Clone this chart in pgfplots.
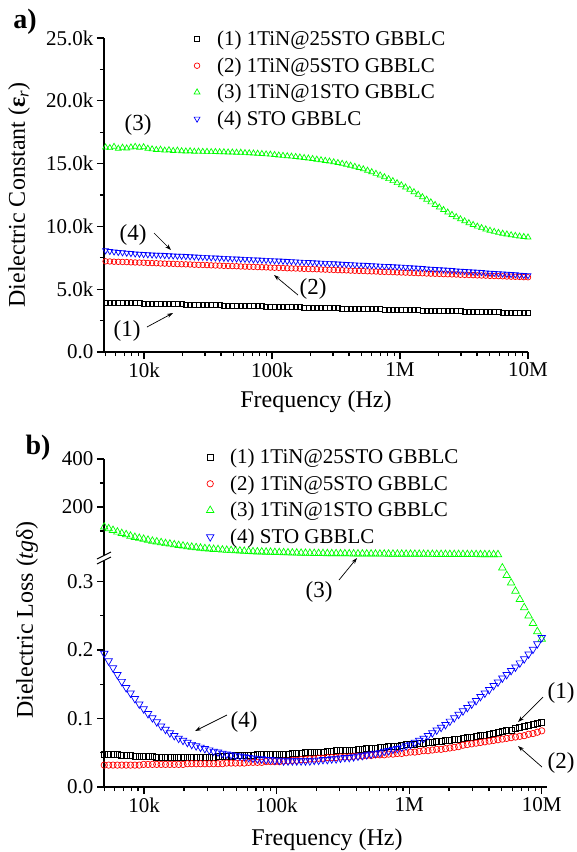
\documentclass[border=0pt]{standalone}
\usepackage{pgfplots}
\pgfplotsset{compat=1.18}
\usepackage{pgfplotstable}
\usepackage{fontspec}
\setmainfont{Liberation Serif}
\usetikzlibrary{arrows.meta}

\definecolor{cgreen}{RGB}{0,255,0}
\definecolor{cred}{RGB}{255,0,0}
\definecolor{cblue}{RGB}{0,0,255}

\pgfplotstableread{
L a1 a2 a3 a4 b1 b2 b3 b4
3.700 3.95 7.22 16.30 8.08 0.048 0.032 117 0.195
3.733 3.94 7.21 16.25 8.03 0.048 0.032 110 0.184
3.766 3.93 7.19 16.35 7.99 0.047 0.032 103 0.174
3.799 3.92 7.18 16.20 7.95 0.047 0.032 96 0.164
3.832 3.92 7.17 16.28 7.92 0.046 0.032 90 0.154
3.865 3.91 7.16 16.22 7.89 0.046 0.032 85 0.145
3.898 3.90 7.14 16.30 7.86 0.046 0.032 79 0.137
3.931 3.89 7.13 16.35 7.83 0.045 0.032 74 0.129
3.964 3.88 7.12 16.28 7.81 0.045 0.032 70 0.121
3.997 3.87 7.11 16.32 7.78 0.045 0.033 66 0.114
4.030 3.87 7.09 16.20 7.76 0.045 0.033 62 0.107
4.063 3.86 7.08 16.15 7.75 0.045 0.033 58 0.101
4.096 3.85 7.07 16.10 7.73 0.044 0.033 55 0.095
4.129 3.84 7.05 16.12 7.72 0.044 0.033 52 0.089
4.162 3.83 7.04 16.05 7.70 0.044 0.033 48 0.084
4.195 3.82 7.03 16.08 7.68 0.044 0.033 46 0.079
4.228 3.81 7.02 16.02 7.67 0.044 0.033 43 0.075
4.261 3.81 7.00 16.05 7.65 0.044 0.033 40 0.071
4.294 3.80 6.99 16.00 7.64 0.044 0.033 38 0.068
4.327 3.79 6.98 15.98 7.62 0.044 0.034 35 0.065
4.360 3.78 6.97 16.00 7.60 0.044 0.034 33 0.062
4.393 3.77 6.95 15.96 7.59 0.044 0.034 31 0.060
4.426 3.76 6.94 15.97 7.57 0.044 0.034 29 0.058
4.459 3.75 6.93 15.95 7.56 0.044 0.034 27 0.056
4.492 3.75 6.92 15.95 7.54 0.044 0.034 26 0.054
4.525 3.74 6.90 15.93 7.52 0.044 0.034 24 0.052
4.558 3.73 6.89 15.94 7.51 0.045 0.034 23 0.051
4.591 3.72 6.88 15.92 7.49 0.045 0.034 21 0.049
4.624 3.71 6.86 15.92 7.48 0.045 0.035 20 0.048
4.657 3.70 6.85 15.90 7.46 0.045 0.035 19 0.047
4.690 3.70 6.84 15.90 7.44 0.046 0.035 18 0.046
4.723 3.69 6.83 15.88 7.43 0.046 0.035 17 0.045
4.756 3.68 6.81 15.88 7.41 0.046 0.035 16 0.044
4.789 3.67 6.80 15.85 7.40 0.046 0.036 15 0.043
4.822 3.66 6.79 15.84 7.38 0.046 0.036 14 0.042
4.855 3.65 6.78 15.82 7.36 0.047 0.036 13.5 0.041
4.888 3.64 6.76 15.80 7.35 0.047 0.036 13 0.041
4.921 3.64 6.75 15.78 7.33 0.047 0.037 12.5 0.040
4.954 3.63 6.74 15.75 7.32 0.047 0.037 12 0.040
4.987 3.62 6.72 15.73 7.30 0.047 0.037 11 0.039
5.020 3.61 6.71 15.70 7.28 0.048 0.037 10.5 0.039
5.053 3.60 6.70 15.66 7.27 0.048 0.038 10 0.038
5.086 3.59 6.69 15.63 7.25 0.048 0.038 9.5 0.038
5.119 3.58 6.67 15.60 7.23 0.049 0.039 9 0.038
5.152 3.58 6.66 15.57 7.22 0.049 0.039 8.5 0.038
5.185 3.57 6.65 15.54 7.20 0.049 0.040 8 0.038
5.218 3.56 6.64 15.50 7.18 0.050 0.040 7.7 0.038
5.251 3.55 6.62 15.46 7.16 0.050 0.041 7.4 0.038
5.284 3.54 6.61 15.42 7.15 0.051 0.041 7.1 0.039
5.317 3.53 6.60 15.38 7.13 0.051 0.042 6.8 0.039
5.350 3.53 6.59 15.33 7.11 0.051 0.042 6.5 0.040
5.383 3.52 6.57 15.28 7.10 0.052 0.043 6.3 0.040
5.416 3.51 6.56 15.23 7.08 0.052 0.043 6.1 0.041
5.449 3.50 6.55 15.18 7.06 0.053 0.043 5.9 0.041
5.482 3.49 6.53 15.12 7.05 0.053 0.044 5.7 0.042
5.515 3.48 6.52 15.06 7.03 0.053 0.044 5.5 0.043
5.548 3.47 6.51 15.00 7.01 0.054 0.044 5.3 0.043
5.581 3.47 6.50 14.93 6.99 0.054 0.045 5.1 0.044
5.614 3.46 6.48 14.85 6.98 0.055 0.045 5.0 0.045
5.647 3.45 6.47 14.76 6.96 0.055 0.045 4.8 0.046
5.680 3.44 6.46 14.66 6.94 0.056 0.046 4.7 0.047
5.713 3.43 6.45 14.56 6.93 0.056 0.046 4.6 0.048
5.746 3.42 6.43 14.45 6.91 0.057 0.047 4.5 0.049
5.779 3.41 6.42 14.33 6.89 0.058 0.047 4.4 0.050
5.812 3.41 6.41 14.20 6.88 0.058 0.047 4.3 0.052
5.845 3.40 6.39 14.07 6.86 0.059 0.048 4.2 0.053
5.878 3.39 6.38 13.93 6.84 0.060 0.048 4.1 0.055
5.911 3.38 6.37 13.78 6.83 0.060 0.049 4.0 0.056
5.944 3.37 6.36 13.62 6.81 0.061 0.049 3.9 0.058
5.977 3.36 6.34 13.46 6.79 0.062 0.050 3.8 0.060
6.010 3.36 6.33 13.29 6.78 0.063 0.051 3.7 0.062
6.043 3.35 6.32 13.11 6.76 0.063 0.051 3.6 0.065
6.076 3.34 6.31 12.93 6.73 0.064 0.052 3.5 0.068
6.109 3.33 6.29 12.74 6.71 0.064 0.053 3.4 0.071
6.142 3.32 6.28 12.54 6.69 0.065 0.053 3.3 0.075
6.175 3.31 6.27 12.34 6.67 0.065 0.054 3.2 0.079
6.208 3.30 6.25 12.14 6.64 0.066 0.055 3.1 0.083
6.241 3.30 6.24 11.93 6.62 0.067 0.055 3.0 0.087
6.274 3.29 6.23 11.72 6.60 0.068 0.056 2.9 0.091
6.307 3.28 6.22 11.52 6.57 0.068 0.057 2.8 0.096
6.340 3.27 6.20 11.32 6.55 0.069 0.058 2.7 0.101
6.373 3.26 6.19 11.12 6.53 0.070 0.059 2.6 0.106
6.406 3.25 6.18 10.93 6.51 0.071 0.061 2.5 0.111
6.439 3.24 6.17 10.75 6.48 0.072 0.062 2.4 0.116
6.472 3.24 6.15 10.58 6.46 0.073 0.063 2.3 0.121
6.505 3.23 6.14 10.42 6.44 0.074 0.064 2.2 0.126
6.538 3.22 6.13 10.27 6.42 0.075 0.065 2.1 0.132
6.571 3.21 6.12 10.13 6.39 0.076 0.066 2.0 0.137
6.604 3.20 6.10 10.00 6.37 0.077 0.067 2.0 0.142
6.637 3.19 6.09 9.88 6.35 0.078 0.068 1.9 0.148
6.670 3.19 6.08 9.77 6.32 0.080 0.069 1.9 0.153
6.703 3.18 6.06 9.67 6.30 0.081 0.070 0.320 0.159
6.736 3.17 6.05 9.58 6.28 0.082 0.071 0.309 0.164
6.769 3.16 6.04 9.50 6.26 0.083 0.072 0.298 0.170
6.802 3.15 6.03 9.43 6.23 0.085 0.073 0.286 0.175
6.835 3.14 6.01 9.37 6.21 0.087 0.074 0.274 0.181
6.868 3.13 6.00 9.31 6.19 0.089 0.075 0.262 0.187
6.901 3.13 5.99 9.26 6.17 0.090 0.077 0.250 0.194
6.934 3.12 5.98 9.21 6.14 0.092 0.078 0.239 0.201
6.967 3.11 5.96 9.17 6.12 0.093 0.080 0.227 0.209
7.000 3.10 5.95 9.13 6.10 0.095 0.082 0.216 0.218
}\data

\newcommand{\tkfont}{\rmfamily\fontsize{21}{25}\selectfont}
\newcommand{\lbfont}{\rmfamily\fontsize{24}{28}\selectfont}
\newcommand{\anfont}{\rmfamily\fontsize{23}{27}\selectfont}

\pgfplotsset{
  myleg/.style={legend image code/.code={\path[draw=none,fill=none] (0pt,-4pt) rectangle (32pt,4pt); \draw[##1] plot coordinates {(14pt,0pt)};}},
  common/.style={
    scale only axis,
    axis line style={-, line width=1.2pt},
    every tick/.style={line width=1.2pt, black},
    tick align=outside,
    major tick length=7pt,
    minor tick length=4pt,
    ticklabel style={font=\tkfont},
    legend style={draw=none, fill=none, font=\tkfont, inner sep=0pt, row sep=6.5pt,
      nodes={inner sep=2pt}},
    legend cell align=left,
  },
  xlog/.style={
    xtick={4,5,6,7}, xticklabels={10k,100k,1M,10M},
    minor xtick={3.699,3.778,3.845,3.903,3.954,4.301,4.477,4.602,4.699,4.778,4.845,4.903,4.954,5.301,5.477,5.602,5.699,5.778,5.845,5.903,5.954,6.301,6.477,6.602,6.699,6.778,6.845,6.903,6.954},
  },
  s1/.style={only marks, mark=square, black, mark size=2.5pt, mark options={line width=0.7pt}, myleg},
  s2/.style={only marks, mark=o, cred, mark size=2.8pt, mark options={line width=0.7pt}, myleg},
  s3/.style={only marks, mark=triangle, cgreen, mark size=3.4pt, mark options={line width=0.7pt}, myleg},
  s4/.style={only marks, mark=triangle, cblue, mark size=3.4pt, mark options={line width=0.7pt, rotate=180}, myleg},
  t1/.style={only marks, mark=square, black, mark size=3pt, mark options={line width=0.7pt}, myleg},
  t2/.style={only marks, mark=o, cred, mark size=3.2pt, mark options={line width=0.7pt}, myleg},
  t3/.style={only marks, mark=triangle, cgreen, mark size=4.3pt, mark options={line width=0.7pt}, myleg},
  t4/.style={only marks, mark=triangle, cblue, mark size=4.3pt, mark options={line width=0.7pt, rotate=180}, myleg},
}

\begin{document}
\begin{tikzpicture}
\useasboundingbox (0pt,0pt) rectangle (577pt,-852pt);

% ---------------- panel a ----------------
\begin{axis}[common, xlog,
  at={(104pt,-352pt)}, anchor=south west, width=424pt, height=314pt,
  xmin=3.6875, xmax=7, ymin=0, ymax=25,
  axis x line*=bottom, axis y line*=left,
  ytick={0,5,10,15,20,25}, yticklabels={0.0,5.0k,10.0k,15.0k,20.0k,25.0k},
  minor ytick={2.5,7.5,12.5,17.5,22.5},
  legend style={at={(axis description cs:0.186,1.029)}, anchor=north west},
]
\addplot[s1] table[x=L,y=a1]{\data};
\addlegendentry{(1) 1TiN@25STO GBBLC}
\addplot[s2] table[x=L,y=a2]{\data};
\addlegendentry{(2) 1TiN@5STO GBBLC}
\addplot[s3] table[x=L,y=a3]{\data};
\addlegendentry{(3) 1TiN@1STO GBBLC}
\addplot[s4] table[x=L,y=a4]{\data};
\addlegendentry{(4) STO GBBLC}
\end{axis}

% ---------------- panel b, lower ----------------
\begin{axis}[common, xlog,
  at={(104pt,-787pt)}, anchor=south west, width=443pt, height=230pt,
  xmin=3.698, xmax=7.04, ymin=0, ymax=0.3358,
  axis x line*=bottom, axis y line*=left,
  ytick={0,0.1,0.2,0.3}, yticklabels={0.0,0.1,0.2,0.3},
  minor ytick={0.05,0.15,0.25},
]
\addplot[t1] table[x=L,y=b1]{\data};
\addplot[t2] table[x=L,y=b2]{\data};
\addplot[t3, restrict y to domain=0:0.34] table[x=L,y=b3]{\data};
\addplot[t4] table[x=L,y=b4]{\data};
\end{axis}

% ---------------- panel b, upper ----------------
\begin{axis}[common,
  at={(104pt,-557pt)}, anchor=south west, width=443pt, height=98pt,
  xmin=3.698, xmax=7.04, ymin=-8.3, ymax=400,
  axis x line=none, axis y line*=left,
  ytick={200,400}, yticklabels={200,400}, minor ytick={100,300},
  legend style={at={(axis description cs:0.2077,1.123)}, anchor=north west},
]
\addlegendimage{t1}
\addlegendentry{(1) 1TiN@25STO GBBLC}
\addlegendimage{t2}
\addlegendentry{(2) 1TiN@5STO GBBLC}
\addlegendimage{t3}
\addlegendentry{(3) 1TiN@1STO GBBLC}
\addlegendimage{t4}
\addlegendentry{(4) STO GBBLC}
\addplot[t3, restrict y to domain=1:1000, forget plot] table[x=L,y=b3]{\data};
\end{axis}

% axis break
\fill[white] (97pt,-559pt) -- (111pt,-552pt) -- (111pt,-557pt) -- (97pt,-564pt) -- cycle;
\draw[line width=1pt] (97pt,-559pt) -- (111pt,-552pt);
\draw[line width=1pt] (97pt,-564pt) -- (111pt,-557pt);

% labels
\node[font=\rmfamily\fontsize{28}{32}\selectfont\bfseries] at (25pt,-22pt) {a)};
\node[font=\rmfamily\fontsize{28}{32}\selectfont\bfseries] at (38pt,-448pt) {b)};
\node[font=\lbfont] at (316pt,-402pt) {Frequency (Hz)};
\node[font=\lbfont] at (327pt,-840pt) {Frequency (Hz)};
\node[font=\lbfont, rotate=90] at (19pt,-195pt) {Dielectric Constant (\textbf{ε}\textsubscript{\textit{r}})};
\node[font=\lbfont, rotate=90] at (27pt,-620pt) {Dielectric Loss (\textit{tg}δ)};

% annotations panel a
\node[font=\anfont] at (138pt,-125pt) {(3)};
\node[font=\anfont] at (133pt,-235pt) {(4)};
\draw[-{Stealth[length=6pt,width=4pt]}, line width=0.7pt] (154pt,-233pt) -- (171pt,-250pt);
\node[font=\anfont] at (127pt,-331pt) {(1)};
\draw[-{Stealth[length=6pt,width=4pt]}, line width=0.7pt] (147pt,-327pt) -- (173pt,-313pt);
\node[font=\anfont] at (313pt,-289pt) {(2)};
\draw[-{Stealth[length=6pt,width=4pt]}, line width=0.7pt] (298pt,-295pt) -- (274pt,-275pt);

% annotations panel b
\node[font=\anfont] at (319pt,-592pt) {(3)};
\draw[-{Stealth[length=6pt,width=4pt]}, line width=0.7pt] (339pt,-580pt) -- (357pt,-558pt);
\node[font=\anfont] at (244pt,-722pt) {(4)};
\draw[-{Stealth[length=6pt,width=4pt]}, line width=0.7pt] (227pt,-715pt) -- (195pt,-731pt);
\node[font=\anfont] at (561pt,-693pt) {(1)};
\draw[-{Stealth[length=6pt,width=4pt]}, line width=0.7pt] (543pt,-697pt) -- (518pt,-722pt);
\node[font=\anfont] at (561pt,-763pt) {(2)};
\draw[-{Stealth[length=6pt,width=4pt]}, line width=0.7pt] (542pt,-767pt) -- (518pt,-746pt);
\end{tikzpicture}
\end{document}
